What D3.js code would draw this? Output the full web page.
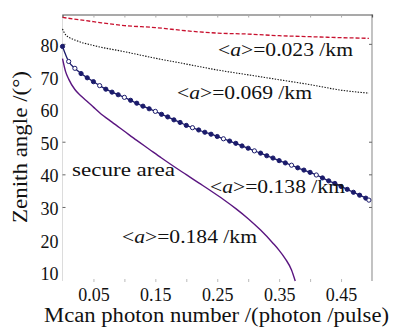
<!DOCTYPE html>
<html>
<head>
<meta charset="utf-8">
<script src="https://cdn.jsdelivr.net/npm/d3@7"></script>
<style>
  body { margin: 0; background: #fff; }
</style>
</head>
<body>
<div id="chart"></div>
<script>
// tick values
const xTicks = [0.05, 0.10, 0.15, 0.20, 0.25, 0.30, 0.35, 0.40, 0.45];
const xTickLabels = [0.05, 0.15, 0.25, 0.35, 0.45];
const yTicks = [80, 70, 60, 50, 40, 30, 20, 10];
const yTicksMarked = [80, 50, 40, 30];

// <a> values for the four curves
const attenuations = ["0.023", "0.069", "0.138", "0.184"];

// [mean photon number, zenith angle]
const a023 = [[0, 88.1], [0.05, 86.8], [0.10, 85.6], [0.15, 85.0], [0.20, 84.0], [0.25, 83.3],
  [0.30, 83.0], [0.35, 82.5], [0.40, 82.2], [0.45, 81.9], [0.495, 81.7]];

const a069 = [[0, 84.6], [0.005, 82.8], [0.02, 81.2], [0.05, 79.5], [0.10, 77.6], [0.15, 75.6],
  [0.20, 73.8], [0.25, 72.0], [0.30, 70.5], [0.35, 69.0], [0.40, 67.5], [0.45, 65.8], [0.495, 64.9]];

const a138 = [[0, 79.2], [0.01, 74.6], [0.02, 72.5], [0.03, 70.9], [0.04, 69.6], [0.05, 68.4],
  [0.06, 67.2], [0.07, 66.1], [0.08, 65.2], [0.09, 64.4], [0.10, 63.6], [0.11, 62.7], [0.12, 61.8],
  [0.13, 60.9], [0.14, 60.1], [0.15, 59.3], [0.16, 58.4], [0.17, 57.6], [0.18, 56.7], [0.19, 55.9],
  [0.20, 55.0], [0.21, 54.3], [0.22, 53.6], [0.23, 52.9], [0.24, 52.3], [0.25, 51.6], [0.26, 50.9],
  [0.27, 50.2], [0.28, 49.5], [0.29, 48.7], [0.30, 48.0], [0.31, 47.2], [0.32, 46.5], [0.33, 45.7],
  [0.34, 45.0], [0.35, 44.2], [0.36, 43.5], [0.37, 42.8], [0.38, 42.0], [0.39, 41.3], [0.40, 40.6],
  [0.41, 39.8], [0.42, 38.9], [0.43, 38.0], [0.44, 37.2], [0.45, 36.3], [0.46, 35.4], [0.47, 34.5],
  [0.48, 33.6], [0.49, 32.7], [0.495, 32.1]];
// points of a138 drawn as open circles
const a138Open = [0.01, 0.02, 0.06, 0.10, 0.15, 0.21, 0.26, 0.31, 0.37, 0.41, 0.495];

const a184 = [[0, 75.5], [0.005, 71.5], [0.01, 69.2], [0.02, 66.0], [0.03, 64.0], [0.04, 62.3],
  [0.05, 60.6], [0.06, 58.9], [0.08, 56.0], [0.10, 53.2], [0.12, 50.4], [0.14, 47.7], [0.16, 45.0],
  [0.18, 42.4], [0.20, 39.9], [0.22, 37.4], [0.24, 34.9], [0.26, 32.3], [0.28, 29.5], [0.30, 26.4],
  [0.32, 22.9], [0.34, 18.9], [0.35, 16.7], [0.36, 14.1], [0.37, 10.7], [0.376, 7.3]];

const SERIF = '"Liberation Serif", "Times New Roman", Times, serif';
const W = 395, H = 327;
const svg = d3.select("#chart").append("svg")
  .attr("width", W)
  .attr("height", H)
  .attr("font-family", SERIF);

const x = d3.scaleLinear().domain([0, 0.5]).range([62.5, 372]);
const y = d3.scaleLinear().domain([7.3, 89]).range([281, 14.5]);
const yTop = y.range()[1], yBottom = y.range()[0];

// frame lines
svg.append("line").attr("x1", x(0)).attr("x2", x(0)).attr("y1", yTop).attr("y2", yBottom)
  .attr("stroke", "#dcdcdc");
svg.append("line").attr("x1", x(0.5)).attr("x2", x(0.5)).attr("y1", yTop).attr("y2", yBottom)
  .attr("stroke", "#9a9a9a").attr("stroke-width", 1.2);

// top axis: ticks only
const topAxis = svg.append("g").attr("transform", `translate(0,${yTop})`)
  .call(d3.axisTop(x).tickValues(xTicks).tickSize(-3).tickFormat(""));
topAxis.select(".domain").attr("stroke", "#555").attr("stroke-width", 1.2);
topAxis.selectAll(".tick line").attr("stroke", "#aaa");

// bottom axis: small ticks, labels at every other tick
const bottomAxis = svg.append("g").attr("transform", `translate(0,${yBottom})`)
  .call(d3.axisBottom(x).tickValues(xTicks).tickSize(-3)
    .tickFormat(d => xTickLabels.some(v => Math.abs(v - d) < 1e-9) ? d3.format(".2f")(d) : ""));
bottomAxis.attr("font-family", SERIF);
bottomAxis.select(".domain").remove();
bottomAxis.selectAll(".tick line").attr("stroke", "#bbb").attr("transform", "translate(0,1)");
bottomAxis.selectAll(".tick text").attr("y", 20).attr("dy", null)
  .style("font-family", SERIF).style("font-size", "18px").attr("fill", "#111");

// left axis
const leftAxis = svg.append("g").attr("transform", `translate(${x(0)},0)`)
  .call(d3.axisLeft(y).tickValues(yTicks).tickSize(-3).tickPadding(4));
leftAxis.attr("font-family", SERIF);
leftAxis.select(".domain").remove();
leftAxis.selectAll(".tick line").attr("stroke", "#666")
  .attr("opacity", d => yTicksMarked.includes(d) ? 1 : 0);
leftAxis.selectAll(".tick text").attr("dy", "0.42em")
  .style("font-family", SERIF).style("font-size", "18px").attr("fill", "#111");

// right axis ticks
const rightAxis = svg.append("g").attr("transform", `translate(${x(0.5)},0)`)
  .call(d3.axisRight(y).tickValues(yTicksMarked).tickSize(-3).tickFormat(""));
rightAxis.select(".domain").remove();
rightAxis.selectAll(".tick line").attr("stroke", "#666");

// curves
const line = d3.line().x(d => x(d[0])).y(d => y(d[1])).curve(d3.curveMonotoneX);

svg.append("path").datum(a023).attr("d", line)
  .attr("fill", "none").attr("stroke", "#c8102e").attr("stroke-width", 1.3)
  .attr("stroke-dasharray", "4,2");

svg.append("path").datum(a069).attr("d", line)
  .attr("fill", "none").attr("stroke", "#111").attr("stroke-width", 1.1)
  .attr("stroke-dasharray", "1.4,1.4");

svg.append("path").datum(a138).attr("d", line)
  .attr("fill", "none").attr("stroke", "#1b1b6b").attr("stroke-width", 1.3);

svg.append("g").selectAll("circle")
  .data(a138)
  .join("circle")
  .attr("cx", d => x(d[0]))
  .attr("cy", d => y(d[1]))
  .attr("r", 2.1)
  .attr("fill", d => a138Open.includes(d[0]) ? "#fff" : "#1b1b6b")
  .attr("stroke", "#1b1b6b")
  .attr("stroke-width", 1);

svg.append("path").datum(a184).attr("d", line)
  .attr("fill", "none").attr("stroke", "#5a1580").attr("stroke-width", 1.4);

// curve labels
const labelPos = [[218, 56], [177, 99], [210, 193], [122, 243]];
attenuations.forEach((a, i) => {
  const t = svg.append("text")
    .attr("x", labelPos[i][0]).attr("y", labelPos[i][1])
    .attr("textLength", 135).attr("lengthAdjust", "spacingAndGlyphs")
    .style("font-family", SERIF).style("font-size", "18px").attr("fill", "#111");
  t.append("tspan").text("<");
  t.append("tspan").style("font-style", "italic").text("a");
  t.append("tspan").text(`>=${a} /km`);
});

svg.append("text")
  .attr("x", 72).attr("y", 176)
  .attr("textLength", 103).attr("lengthAdjust", "spacingAndGlyphs")
  .style("font-family", SERIF).style("font-size", "19px").attr("fill", "#111")
  .text("secure area");

// axis titles
svg.append("text")
  .attr("x", 44).attr("y", 322)
  .attr("textLength", 345).attr("lengthAdjust", "spacingAndGlyphs")
  .style("font-family", SERIF).style("font-size", "20px").attr("fill", "#111")
  .text("Mcan photon number /(photon /pulse)");

svg.append("text")
  .attr("transform", "translate(27,147) rotate(-90)")
  .attr("text-anchor", "middle")
  .attr("textLength", 152).attr("lengthAdjust", "spacingAndGlyphs")
  .style("font-family", SERIF).style("font-size", "21px").attr("fill", "#111")
  .text("Zenith angle /(°)");
</script>
</body>
</html>
